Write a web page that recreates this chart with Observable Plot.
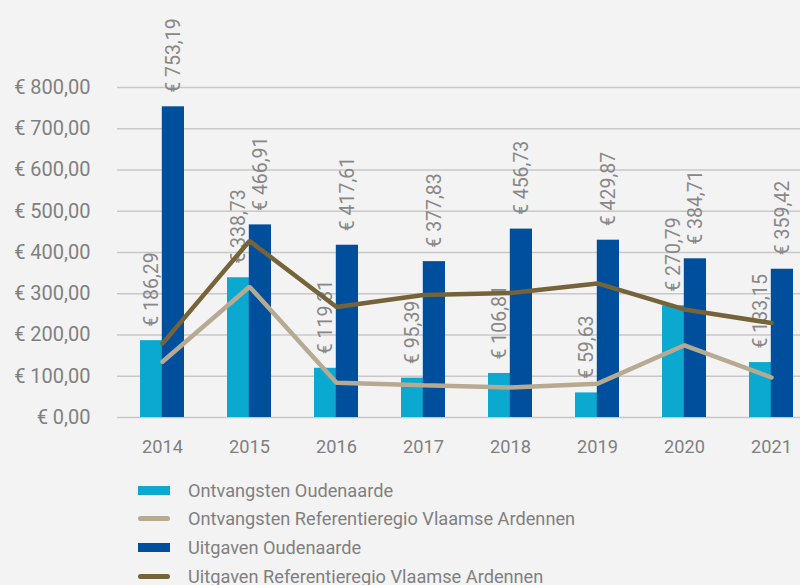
<!DOCTYPE html>
<html>
<head>
<meta charset="utf-8">
<script src="https://cdn.jsdelivr.net/npm/d3@7"></script>
<script src="https://cdn.jsdelivr.net/npm/@observablehq/plot@0.6"></script>
<style>
  html, body { margin: 0; padding: 0; background: #f3f3f3; width: 800px; height: 585px; overflow: hidden; }
  #chart svg { display: block; }
  .legend { padding-top: 6px; padding-left: 138px; font-family: Roboto, sans-serif; font-size: 18.2px; color: #808080; }
  .row { display: flex; align-items: center; height: 28.6px; }
  .sw { width: 32px; margin-right: 18px; }
  .bar { height: 9px; }
  .ln { height: 5px; border-radius: 3px; }
</style>
</head>
<body>
<div id="chart"></div>
<div class="legend" id="legend"></div>
<script>
const years = ["2014", "2015", "2016", "2017", "2018", "2019", "2020", "2021"];
const ontvangstenOudenaarde = [186.29, 338.73, 119.31, 95.39, 106.81, 59.63, 270.79, 133.15];
const uitgavenOudenaarde = [753.19, 466.91, 417.61, 377.83, 456.73, 429.87, 384.71, 359.42];
const ontvangstenRef = [135, 317, 84, 78, 73, 82, 175, 97];
const uitgavenRef = [179, 428, 268, 297, 302, 325, 262, 229];
const yTicks = [0, 100, 200, 300, 400, 500, 600, 700, 800];
const seriesNames = [
  "Ontvangsten Oudenaarde",
  "Ontvangsten Referentieregio Vlaamse Ardennen",
  "Uitgaven Oudenaarde",
  "Uitgaven Referentieregio Vlaamse Ardennen"
];
const colors = ["#0ba8d0", "#b7aa93", "#004f9c", "#75633a"];

const fmt = v => "€ " + v.toFixed(2).replace(".", ",");
const rows = (vals) => years.map((y, i) => ({year: y, value: vals[i]}));
const oO = rows(ontvangstenOudenaarde), uO = rows(uitgavenOudenaarde);
const oR = rows(ontvangstenRef), uR = rows(uitgavenRef);

const half = 21.8;
const chart = Plot.plot({
  width: 800,
  height: 470,
  marginLeft: 117,
  marginRight: 0,
  marginTop: 87,
  marginBottom: 53,
  style: {background: "#f3f3f3", fontFamily: "Roboto, sans-serif", fontSize: "19px", color: "#808080"},
  x: {domain: years, range: [117, 815], paddingInner: 0.5, paddingOuter: 0.25, axis: null},
  y: {domain: [0, 800], axis: null},
  marks: [
    Plot.gridY(yTicks, {stroke: "#c8c8c8", strokeOpacity: 1, strokeWidth: 1.5}),
    Plot.barY(oO, {x: "year", y: "value", fill: colors[0], insetRight: half}),
    Plot.barY(uO, {x: "year", y: "value", fill: colors[2], insetLeft: half}),
    Plot.text(oO, {x: "year", y: "value", text: d => fmt(d.value), rotate: -90, textAnchor: "start", lineAnchor: "middle", dx: -half / 2, dy: -14, fontSize: 19.5, fill: "#888888"}),
    Plot.text(uO, {x: "year", y: "value", text: d => fmt(d.value), rotate: -90, textAnchor: "start", lineAnchor: "middle", dx: half / 2, dy: -14, fontSize: 19.5, fill: "#888888"}),
    Plot.line(oR, {x: "year", y: "value", stroke: colors[1], strokeWidth: 4.5, strokeLinejoin: "miter"}),
    Plot.line(uR, {x: "year", y: "value", stroke: colors[3], strokeWidth: 4.5, strokeLinejoin: "miter"}),
    Plot.axisY(yTicks, {tickFormat: fmt, tickSize: 0, tickPadding: 27, fontSize: 20, label: null}),
    Plot.axisX({tickSize: 0, tickPadding: 23, fontSize: 18.2, label: null})
  ]
});
document.getElementById("chart").appendChild(chart);

const legend = document.getElementById("legend");
seriesNames.forEach((name, i) => {
  const row = document.createElement("div");
  row.className = "row";
  const sw = document.createElement("div");
  sw.className = "sw " + (i % 2 === 0 ? "bar" : "ln");
  sw.style.background = colors[i];
  const t = document.createElement("span");
  t.textContent = name;
  row.appendChild(sw);
  row.appendChild(t);
  legend.appendChild(row);
});
</script>
</body>
</html>
